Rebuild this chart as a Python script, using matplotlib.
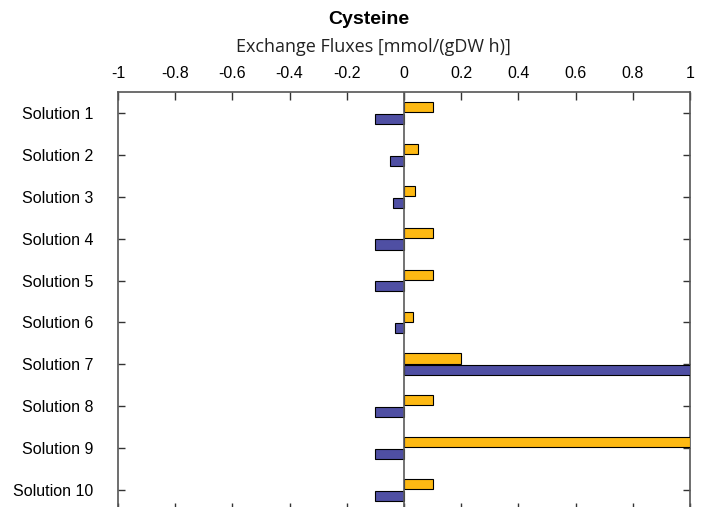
"""Cysteine exchange fluxes per solution (horizontal paired bars)."""

import matplotlib
matplotlib.use("Agg")
import matplotlib.pyplot as plt
import numpy as np

solutions = [f"Solution {i}" for i in range(1, 11)]
uptake = [0.10, 0.05, 0.04, 0.10, 0.10, 0.03, 0.20, 0.10, 1.00, 0.10]       # orange
secretion = [-0.10, -0.05, -0.04, -0.10, -0.10, -0.03, 1.00, -0.10, -0.10, -0.10]  # blue
xticks = [-1, -0.8, -0.6, -0.4, -0.2, 0, 0.2, 0.4, 0.6, 0.8, 1]
xtick_labels = ["-1", "-0.8", "-0.6", "-0.4", "-0.2", "0", "0.2", "0.4", "0.6", "0.8", "1"]

ORANGE = "#FDB913"
BLUE = "#4F4FA3"

plt.rcParams["font.family"] = ["Liberation Sans", "DejaVu Sans"]

fig = plt.figure(figsize=(7.02, 5.07), dpi=100)
# axes top at y=92 px, runs slightly past the bottom edge of the figure
ax = fig.add_axes([118 / 702, -4 / 507, (690 - 118) / 702, (507 - 92 + 4) / 507])

y = np.arange(1, len(solutions) + 1)
h = 0.24
off = 0.14
ax.barh(y - off, uptake, height=h, color=ORANGE, edgecolor="black", linewidth=0.8, zorder=3)
ax.barh(y + off, secretion, height=h, color=BLUE, edgecolor="black", linewidth=0.8, zorder=3)
ax.axvline(0, color="#5a5a5a", linewidth=1.2, zorder=4)

ax.set_xlim(-1, 1)
ax.set_ylim(len(solutions) + 0.5, 0.5)
ax.set_yticks(y)
ax.set_yticklabels(solutions, fontsize=11.5)
ax.set_xticks(xticks)
ax.set_xticklabels(xtick_labels, fontsize=11.5)

ax.tick_params(axis="x", which="both", direction="in", length=6, width=1,
               top=True, bottom=True, labeltop=True, labelbottom=False, pad=8,
               color="#333333")
ax.tick_params(axis="y", direction="in", length=5, width=1, left=True, right=True,
               pad=18, color="#333333")

for side in ("top", "left", "right"):
    ax.spines[side].set_color("#555555")
    ax.spines[side].set_linewidth(1.2)
ax.spines["bottom"].set_visible(False)

fig.text(369 / 702, 1 - 20 / 507, "Cysteine", ha="center", va="center",
         fontsize=14, fontweight="bold")
fig.text(373 / 702, 1 - 47 / 507, "Exchange Fluxes [mmol/(gDW h)]", ha="center",
         va="center", fontsize=13, family=["Open Sans", "DejaVu Sans"], color="#222222")

fig.savefig("out.png", dpi=100)
